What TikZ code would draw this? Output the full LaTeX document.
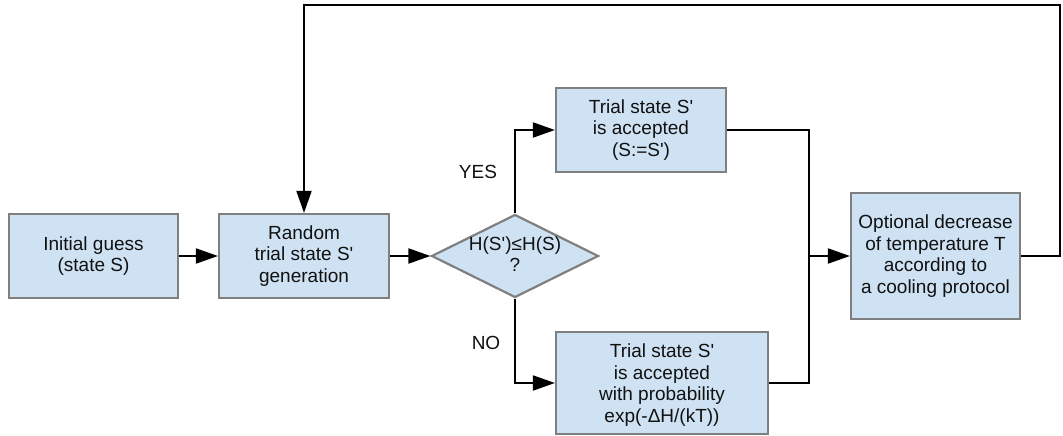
\documentclass[tikz,border=0pt]{standalone}
\usepackage{fontspec}
\setmainfont{Liberation Sans}[Ligatures=TeXOff]
\usetikzlibrary{shapes.geometric,arrows.meta}
\definecolor{boxfill}{HTML}{CFE2F3}
\definecolor{boxdraw}{HTML}{7F7F7F}
\definecolor{txt}{HTML}{111111}
\begin{document}
\begin{tikzpicture}[x=1pt,y=-1pt,
  every node/.style={font=\fontsize{19}{21.5}\selectfont, text=txt, align=center},
  box/.style={draw=boxdraw, fill=boxfill, line width=2.2pt, inner sep=0pt},
  dia/.style={diamond, draw=boxdraw, fill=boxfill, line width=2.2pt, inner sep=0pt, aspect=2},
  conn/.style={line width=2pt, black},
  arr/.style={conn, -{Triangle[length=22pt,width=15pt]}},
  lbl/.style={inner sep=0pt}]
\useasboundingbox (0,0) rectangle (1063,436);
\node[box, minimum width=169pt, minimum height=84pt] (init) at (93.5,256) {Initial guess\\(state S)};
\node[box, minimum width=170pt, minimum height=84pt] (rand) at (304,256) {Random\\trial state S'\\generation};
\node[dia, minimum width=167pt, minimum height=83pt] (dec) at (515,256) {};
\node[lbl] (dect) at (515,254) {H(S')≤H(S)\\?};
\node[box, minimum width=170pt, minimum height=84pt] (acc) at (641,130) {Trial state S'\\is accepted\\(S:=S')};
\node[box, minimum width=212pt, minimum height=102pt, text depth=0pt] (prob) at (662,383) {Trial state S'\\is accepted\\with probability\\exp(-ΔH/(kT))\vphantom{$\big($}};
\node[box, minimum width=169pt, minimum height=126pt] (opt) at (935.5,256) {Optional decrease\\of temperature T\\according to\\a cooling protocol};
\node[lbl] (yes) at (478,172) {YES};
\node[lbl] (no) at (486,343) {NO};
\coordinate (j) at (809,256);
\coordinate (r) at (1060,5);
\draw[arr] (init.east) -- (rand.west);
\draw[arr] (rand.east) -- (dec.west);
\draw[arr] (dec.north) |- (acc.west);
\draw[arr] (dec.south) |- (prob.west);
\draw[conn] (acc.east) -| (j) |- (prob.east);
\draw[arr] (j) -- (opt.west);
\draw[arr] (opt.east) -| (r) -| (rand.north);
\end{tikzpicture}
\end{document}
